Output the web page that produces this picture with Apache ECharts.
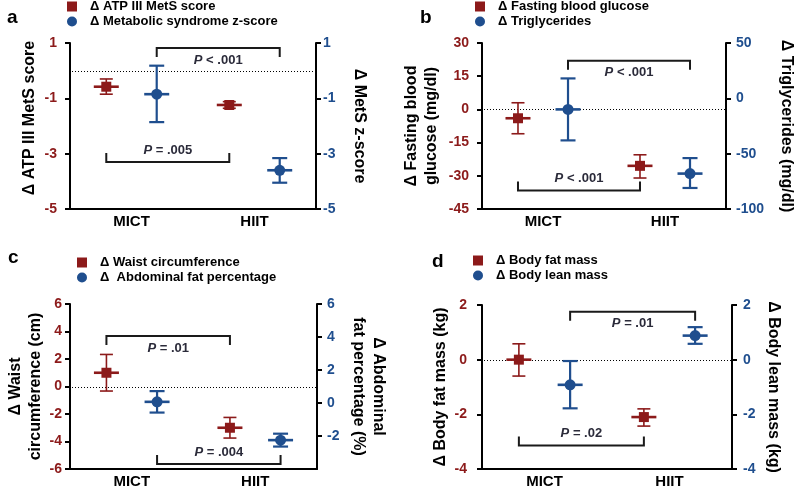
<!DOCTYPE html>
<html>
<head>
<meta charset="utf-8">
<script src="https://cdn.jsdelivr.net/npm/echarts@6/dist/echarts.min.js"></script>
<style>html,body{margin:0;padding:0;background:#fff}#c{width:797px;height:489px}</style>
</head>
<body>
<div id="c"></div>
<script>
// ---- data: [mean, lower, upper] per category ----
const categories = ['MICT', 'HIIT'];
const aAtpScore = [[-0.58, -0.85, -0.30], [-1.24, -1.36, -1.12]];
const aMetsZ    = [[-0.85, -1.86, 0.18], [-3.60, -4.05, -3.16]];
const bGlucose  = [[-4.0, -11.0, 3.0], [-25.5, -31.0, -20.5]];
const bTrig     = [[-10, -38, 18], [-68, -81, -54]];
const cWaist    = [[1.0, -0.33, 2.33], [-3.0, -3.75, -2.25]];
const cAbdFat   = [[0.07, -0.58, 0.72], [-2.25, -2.64, -1.86]];
const dFatMass  = [[0.0, -0.60, 0.58], [-2.10, -2.43, -1.80]];
const dLeanMass = [[-0.92, -1.78, -0.05], [0.88, 0.58, 1.19]];

// ---- tick labels ----
const aLeftTicks = [-5, -3, -1, 1];
const aRightTicks = [-5, -3, -1, 1];
const bLeftTicks = [-45, -30, -15, 0, 15, 30];
const bRightTicks = [-100, -50, 0, 50];
const cLeftTicks = [-6, -4, -2, 0, 2, 4, 6];
const cRightTicks = [-2, 0, 2, 4, 6];
const dLeftTicks = [-4, -2, 0, 2];
const dRightTicks = [-4, -2, 0, 2];

// ---- significance brackets: [series index, level, P text] ----
const aBrackets = [[1, 0.82, '< .001'], [0, -3.3, '= .005']];
const bBrackets = [[1, 34, '< .001'], [0, -36.6, '< .001']];
const cBrackets = [[0, 3.67, '= .01'], [1, -3.7, '= .004']];
const dBrackets = [[1, 1.75, '= .01'], [0, -3.14, '= .02']];

const FONT = '"Liberation Sans", Arial, Helvetica, sans-serif';
const RED = '#8c1a1a';
const BLUE = '#1f4e8e';
const OFF = [-0.205, 0.205];

const panels = [
  {letter: 'a', letterPos: [7, 25], grid: {left: 70, right: 481, top: 43, bottom: 280}, legend: {left: 67, top: 0},
   names: ['Δ ATP III MetS score', 'Δ Metabolic syndrome z-score'], series: [aAtpScore, aMetsZ],
   leftRange: [-5, 1], rightRange: [-5, 1], leftTicks: aLeftTicks, rightTicks: aRightTicks, rightLabelTicks: aRightTicks,
   leftName: 'Δ ATP III MetS score', rightName: 'Δ MetS z-score', leftGap: 30, rightGap: 33, leftMargin: 13, rightMargin: 7,
   brackets: aBrackets, leftPad: 16},
  {letter: 'b', letterPos: [420, 25], grid: {left: 482, right: 65, top: 43, bottom: 280}, legend: {left: 475, top: 0},
   names: ['Δ Fasting blood glucose', 'Δ Triglycerides'], series: [bGlucose, bTrig],
   leftRange: [-45, 30], rightRange: [-100, 50], leftTicks: bLeftTicks, rightTicks: bRightTicks, rightLabelTicks: bRightTicks,
   leftName: 'Δ Fasting blood\nglucose (mg/dl)', rightName: 'Δ Triglycerides (mg/dl)', leftGap: 40, rightGap: 50, leftMargin: 13, rightMargin: 10,
   brackets: bBrackets, leftPad: 0},
  {letter: 'c', letterPos: [8, 265], grid: {left: 70, right: 480, top: 304, bottom: 20}, legend: {left: 77, top: 256},
   names: ['Δ Waist circumference', 'Δ  Abdominal fat percentage'], series: [cWaist, cAbdFat],
   leftRange: [-6, 6], rightRange: [-4, 6], leftTicks: cLeftTicks, rightTicks: cRightTicks, rightLabelTicks: cRightTicks,
   leftName: 'Δ Waist\ncircumference (cm)', rightName: 'Δ Abdominal\nfat percentage (%)', leftGap: 23, rightGap: 31, leftMargin: 8, rightMargin: 10,
   brackets: cBrackets, leftPad: 0},
  {letter: 'd', letterPos: [432, 269], grid: {left: 482, right: 65, top: 305, bottom: 18}, legend: {left: 473, top: 254},
   names: ['Δ Body fat mass', 'Δ Body lean mass'], series: [dFatMass, dLeanMass],
   leftRange: [-4, 2], rightRange: [-4, 2], leftTicks: dLeftTicks, rightTicks: dRightTicks, rightLabelTicks: dRightTicks,
   leftName: 'Δ Body fat mass (kg)', rightName: 'Δ Body lean mass (kg)', leftGap: 30, rightGap: 31, leftMargin: 15, rightMargin: 11,
   brackets: dBrackets, leftPad: 0}
];

function errSeries(name, data, gi, yi, sIdx) {
  const color = sIdx === 0 ? RED : BLUE;
  const isSq = sIdx === 0;
  return {
    type: 'custom', name, xAxisIndex: gi, yAxisIndex: yi, silent: true,
    itemStyle: {color},
    encode: {x: 0, y: [1, 2, 3]},
    data: data.map((d, i) => [i, d[0], d[1], d[2]]),
    renderItem(params, api) {
      const i = api.value(0);
      const pm = api.coord([i, api.value(1)]);
      const plo = api.coord([i, api.value(2)]);
      const phi = api.coord([i, api.value(3)]);
      const band = api.size([1, 0])[0];
      const cx = pm[0] + OFF[sIdx] * band;
      const lw = isSq ? 1.6 : 2.2;
      const cap = isSq ? 6.5 : 7.5;
      const ch = [
        {type: 'line', shape: {x1: cx, y1: phi[1], x2: cx, y2: plo[1]}, style: {stroke: color, lineWidth: lw}},
        {type: 'line', shape: {x1: cx - cap, y1: phi[1], x2: cx + cap, y2: phi[1]}, style: {stroke: color, lineWidth: lw}},
        {type: 'line', shape: {x1: cx - cap, y1: plo[1], x2: cx + cap, y2: plo[1]}, style: {stroke: color, lineWidth: lw}},
        {type: 'line', shape: {x1: cx - 12.5, y1: pm[1], x2: cx + 12.5, y2: pm[1]}, style: {stroke: color, lineWidth: 2.6}}
      ];
      if (isSq) ch.push({type: 'rect', shape: {x: cx - 5, y: pm[1] - 5, width: 10, height: 10}, style: {fill: color}});
      else ch.push({type: 'circle', shape: {cx: cx, cy: pm[1], r: 5.5}, style: {fill: color}});
      return {type: 'group', children: ch};
    }
  };
}

// dotted reference line at value 0 (drawn as small dots)
function zeroLineSeries(gi, yi) {
  return {
    type: 'custom', xAxisIndex: gi, yAxisIndex: yi, silent: true,
    encode: {x: 0, y: 1},
    data: [[0, 0]],
    renderItem(params, api) {
      const cs = params.coordSys;
      const y = Math.round(api.coord([0, api.value(1)])[1]);
      const dots = [];
      for (let x = Math.ceil(cs.x + 2); x < cs.x + cs.width - 1; x += 3) {
        dots.push({type: 'rect', shape: {x: x, y: y, width: 1, height: 1}, style: {fill: '#000', stroke: null, lineWidth: 0}});
      }
      return {type: 'group', children: dots};
    }
  };
}

function bracketSeries(b, gi, yi) {
  const sIdx = b[0];
  return {
    type: 'custom', xAxisIndex: gi, yAxisIndex: yi, silent: true,
    encode: {x: 0, y: 1},
    data: [[0, b[1]]],
    renderItem(params, api) {
      const p0 = api.coord([0, api.value(1)]);
      const p1 = api.coord([1, api.value(1)]);
      const band = api.size([1, 0])[0];
      const x0 = p0[0] + OFF[sIdx] * band;
      const x1 = p1[0] + OFF[sIdx] * band;
      const y = p0[1];
      const grid = params.coordSys;
      const mid = grid.y + grid.height / 2;
      const d = y < mid ? 1 : -1;
      return {type: 'group', children: [
        {type: 'polyline', shape: {points: [[x0, y + d * 9], [x0, y], [x1, y], [x1, y + d * 9]]},
         style: {stroke: '#1a1a1a', lineWidth: 2, fill: null}},
        {type: 'text', x: (x0 + x1) / 2, y: y + d * 12,
         style: {text: '{i|P} ' + b[2], font: 'bold 13px ' + FONT, fill: '#2b2b3a',
                 align: 'center', verticalAlign: 'middle',
                 rich: {i: {fontStyle: 'italic', fontWeight: 'bold', fontSize: 13, fontFamily: FONT, fill: '#2b2b3a'}}}}
      ]};
    }
  };
}

const option = {
  animation: false,
  backgroundColor: '#fff',
  grid: [], xAxis: [], yAxis: [], series: [], legend: [], graphic: []
};

panels.forEach((p, gi) => {
  option.grid.push(Object.assign({containLabel: false}, p.grid));
  option.xAxis.push({
    gridIndex: gi, type: 'category', data: categories,
    axisLine: {onZero: false, lineStyle: {color: '#000', width: 2}},
    axisTick: {show: false},
    axisLabel: {fontSize: 15, fontWeight: 'bold', color: '#000', fontFamily: FONT, margin: 5}
  });
  const yBase = (pos, range, ticks, labelTicks, color, name, gap, margin, rot, pad) => ({
    gridIndex: gi, type: 'value', position: pos, min: range[0], max: range[1],
    axisLine: {show: true, onZero: false, lineStyle: {color: '#000', width: 2}},
    axisTick: {show: true, length: 5, lineStyle: {color: '#000', width: 2}, customValues: ticks},
    axisLabel: {color, fontWeight: 'bold', fontSize: 14, fontFamily: FONT, margin, customValues: labelTicks},
    splitLine: {show: false},
    name, nameLocation: 'middle', nameGap: gap, nameRotate: rot,
    nameTextStyle: {fontSize: 16, fontWeight: 'bold', color: '#000', fontFamily: FONT, lineHeight: 20, padding: pad}
  });
  option.yAxis.push(yBase('left', p.leftRange, p.leftTicks, p.leftTicks, RED, p.leftName, p.leftGap, p.leftMargin, 90, [0, 0, 0, p.leftPad]));
  option.yAxis.push(yBase('right', p.rightRange, p.rightTicks, p.rightLabelTicks, BLUE, p.rightName, p.rightGap, p.rightMargin, -90, 0));
  const yl = gi * 2, yr = gi * 2 + 1;
  option.series.push(zeroLineSeries(gi, yl));
  option.series.push(errSeries(p.names[0], p.series[0], gi, yl, 0));
  option.series.push(errSeries(p.names[1], p.series[1], gi, yr, 1));
  p.brackets.forEach(b => option.series.push(bracketSeries(b, gi, b[0] === 0 ? yl : yr)));
  option.legend.push({
    left: p.legend.left, top: p.legend.top, orient: 'vertical', selectedMode: false, padding: 0,
    itemWidth: 10, itemHeight: 10, itemGap: 2,
    textStyle: {fontSize: 13, fontWeight: 'bold', color: '#000', fontFamily: FONT, padding: [0, 0, 0, 8]},
    data: [{name: p.names[0], icon: 'rect'}, {name: p.names[1], icon: 'circle'}]
  });
  option.graphic.push({
    type: 'text', left: p.letterPos[0], top: p.letterPos[1] - 17,
    style: {text: p.letter, font: 'bold 19px ' + FONT, fill: '#000'}
  });
});

const chart = echarts.init(document.getElementById('c'), null, {renderer: 'canvas'});
chart.setOption(option);
</script>
</body>
</html>
